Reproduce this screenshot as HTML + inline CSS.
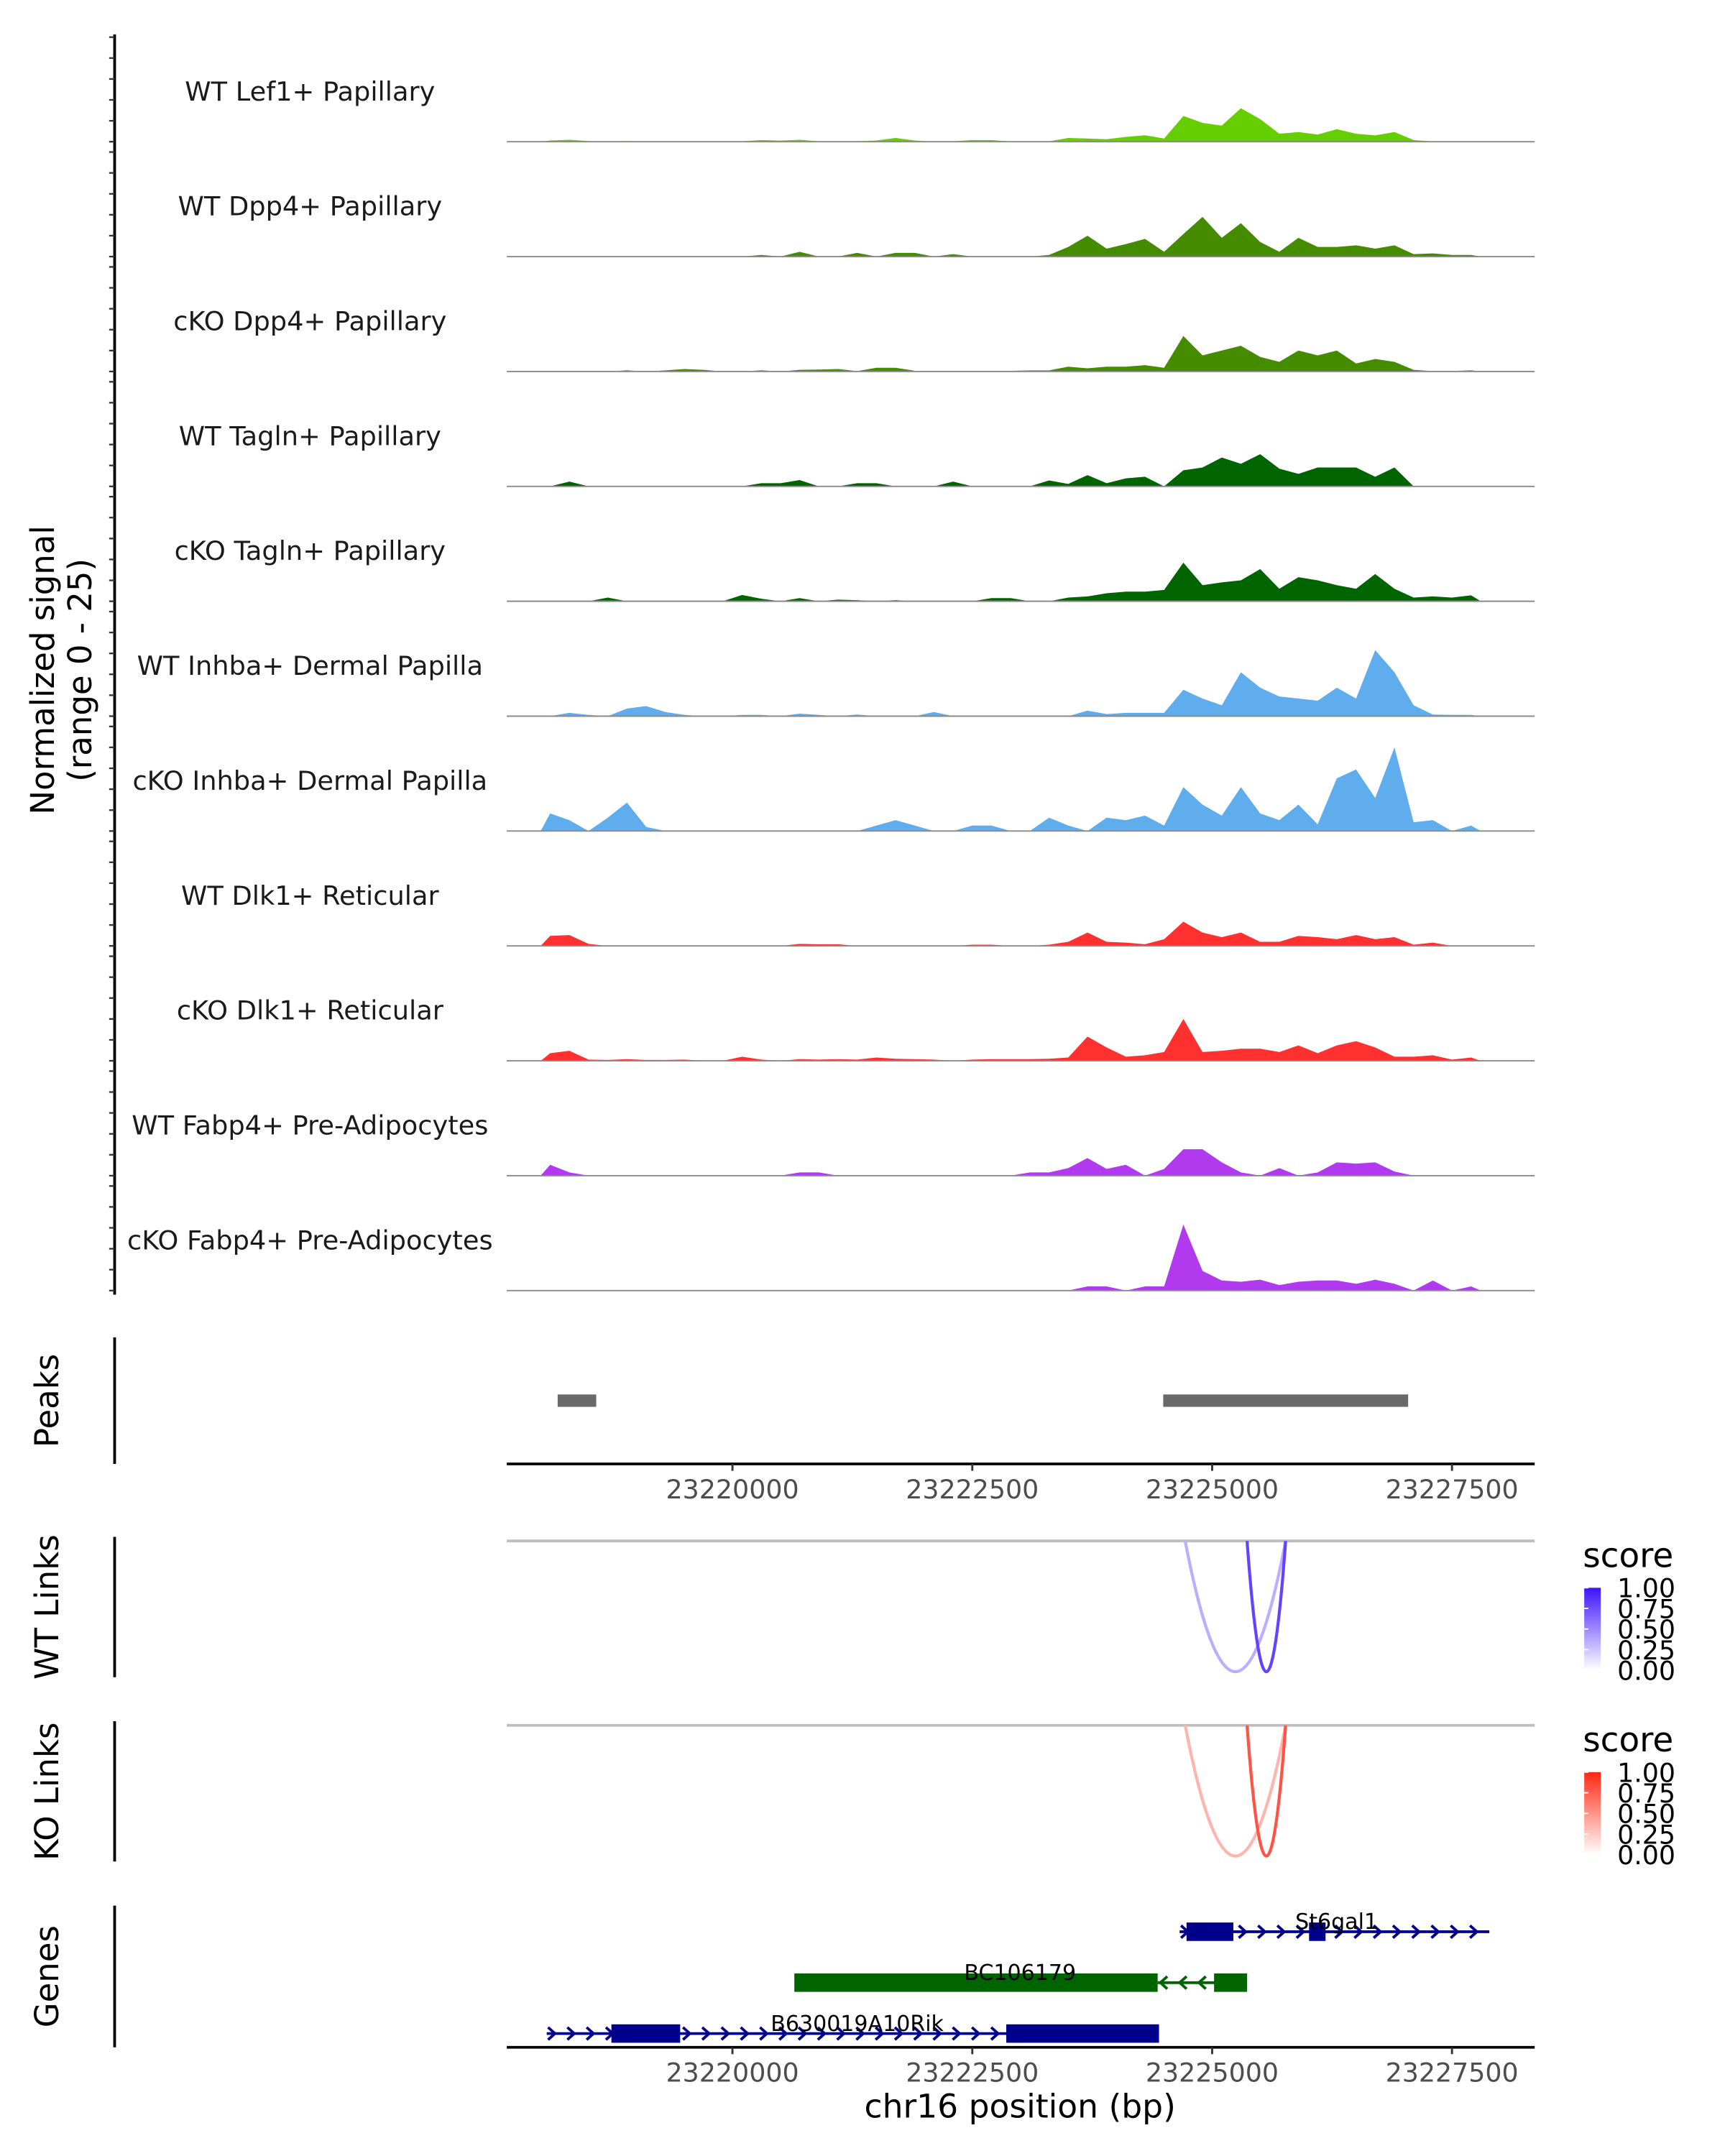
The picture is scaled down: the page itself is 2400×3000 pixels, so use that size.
<!DOCTYPE html>
<html><head><meta charset="utf-8"><style>
html,body{margin:0;padding:0;background:#fff;}
svg{display:block;font-family:"DejaVu Sans","Liberation Sans",sans-serif;}
</style></head><body>
<svg id="chart" xmlns="http://www.w3.org/2000/svg" width="2400" height="3000" viewBox="0 0 1253 1567"></svg>
<script>
// ---- data ----
const binStart = 23218000;
const binSize = 200;
const trackNames = ["WT Lef1+ Papillary","WT Dpp4+ Papillary","cKO Dpp4+ Papillary","WT Tagln+ Papillary","cKO Tagln+ Papillary","WT Inhba+ Dermal Papilla","cKO Inhba+ Dermal Papilla","WT Dlk1+ Reticular","cKO Dlk1+ Reticular","WT Fabp4+ Pre-Adipocytes","cKO Fabp4+ Pre-Adipocytes"];
const trackColors = ["#66cd00","#458b00","#458b00","#006400","#006400","#5fadec","#5fadec","#ff3030","#ff3030","#b23aee","#b23aee"];
const wtLef1 = [0.3,0.45,0.15,0,0.15,0,0,0.1,0.1,0.1,0.1,0.4,0.25,0.45,0.1,0.1,0.1,0.3,0.9,0.3,0,0.1,0.4,0.4,0.05,0.1,0.1,0.9,0.75,0.6,1.15,1.55,0.75,6.15,4.5,3.85,8,5.4,1.9,2.3,1.7,3,1.9,1.5,2.3,0.4,0.05,0.05,0];
const wtDpp4 = [0,0,0,0,0,0,0,0,0,0,0,0.4,0,1.15,0,0,0.9,0,0.9,0.9,0,0.6,0,0,0,0,0.4,2.3,5,1.9,3,4.25,1.15,5.4,9.5,4.5,8,3.5,1.15,4.5,2.3,2.3,2.7,1.9,2.7,0.6,0.75,0.4,0.4];
const koDpp4 = [0.15,0.15,0,0,0.3,0,0.25,0.6,0.4,0,0,0.3,0,0.4,0.45,0.6,0.1,0.9,0.9,0.15,0.15,0.15,0.15,0.15,0.15,0.25,0.25,1.15,0.75,1.15,1.15,1.5,0.9,8.5,3.85,5,6.15,3.5,2.3,5,3.85,5,1.9,3,2.3,0.4,0.1,0.1,0.3];
const wtTagln = [0,1.15,0,0,0,0,0,0,0,0,0,0.75,0.75,1.5,0,0,0.75,0.75,0,0,0,1.15,0,0,0,0,1.4,0.6,2.7,0.75,1.9,2.3,0,3.85,4.5,6.9,5.4,7.7,4.25,3,4.5,4.5,4.5,2.3,4.5,0,0,0,0];
const koTagln = [0,0,0,0.9,0,0,0,0,0,0,1.5,0.6,0,0.75,0,0.4,0.25,0,0.25,0,0,0,0,0.75,0.75,0,0,0.9,1.15,1.9,2.3,2.3,2.7,9.25,3.85,4.5,5,7.7,3,5.75,5,3.85,3,6.5,3,0.9,1.15,0.9,1.4];
const wtInhba = [0,0.8,0.3,0,1.8,2.4,1,0.3,0,0,0.3,0.3,0,0.6,0.3,0,0.4,0,0,0,1,0,0,0,0,0,0,0,1.3,0.5,0.8,0.8,0.8,6.3,4.2,2.6,10.5,6.8,4.7,4.2,3.7,6.8,4.2,15.8,10.5,2.6,0.4,0.3,0.3];
const koInhba = [4.2,2.6,0,3.2,6.8,1,0,0,0,0,0,0,0,0,0,0,0,1.3,2.6,1.3,0,0,1.3,1.3,0,0,3.2,1.3,0,3.2,2.6,3.7,1.3,10.5,6.3,3.7,10.5,4.2,2.6,6.3,1.6,12.6,14.7,7.9,20,2.1,2.6,0,1.3];
const wtDlk1 = [2.4,2.6,0.5,0,0,0,0,0,0,0,0,0,0,0.5,0.4,0.4,0,0,0,0,0,0,0.3,0.3,0,0,0.3,1,3.2,1,0.8,0.4,1.6,5.8,3.2,2.1,3.2,1,1,2.4,2.1,1.6,2.6,1.6,2.1,0.3,0.8,0,0];
const koDlk1 = [1.8,2.4,0.3,0.2,0.4,0.2,0.2,0.3,0,0,1,0.3,0,0.4,0.3,0.4,0.3,0.8,0.5,0.4,0.3,0,0.3,0.4,0.4,0.4,0.5,0.8,5.8,3.2,1,1.3,2.1,10,2.1,2.4,2.9,2.9,2.1,3.7,1.8,3.7,4.7,3.2,1,1,1.3,0.3,0.8];
const wtFabp4 = [2.6,0.8,0,0,0,0,0,0,0,0,0,0,0,0.8,0.8,0,0,0,0,0,0,0,0,0,0,0.8,0.8,1.8,4.2,1.6,2.6,0,1.6,6.3,6.3,3.2,0.8,0,1.8,0,0.8,3.2,2.9,3.2,1,0,0,0,0];
const koFabp4 = [0,0,0,0,0,0,0,0,0,0,0,0,0,0,0,0,0,0,0,0,0,0,0,0,0,0,0,0,1,1,0,1,1,15.8,4.7,2.4,2.1,2.6,1.3,2.1,2.4,2.4,1.6,2.6,1.6,0,2.4,0,1];
const trackValues = [wtLef1,wtDpp4,koDpp4,wtTagln,koTagln,wtInhba,koInhba,wtDlk1,koDlk1,wtFabp4,koFabp4];
const yTicks = [0,5,10,15,20,25];
const xTicks = [23220000,23222500,23225000,23227500];
const peakStarts = [23218178,23224490];
const peakEnds = [23218580,23227043];
const linkStarts = [23224719,23225364];
const linkEnds = [23225766,23225766];
const linkScores = [0.35,0.8];
const genes = ["St6gal1","BC106179","B630019A10Rik"];
const geneStarts = [23224661,23224432,23218064];
const geneEnds = [23227889,23225364,23224446];
const geneStrands = [1,-1,1];
const geneColors = ["#00008b","#006400","#00008b"];
const geneExons = [[[23224733,23225221],[23226010,23226182]],[[23220645,23224432],[23225020,23225364]],[[23218738,23219455],[23222854,23224446]]];
const geneLabelPos = [23226297,23222998,23221300];

// ---- scales ----
const X0=532, PXBP=174.3/2500;
function xs(bp){return X0+(bp-23220000)*PXBP;}
const trackTop0=103, trackStep=83.5, UNIT=3.04;
function ys(base,v){return base - Math.min(v,25)*UNIT;}
const NS="http://www.w3.org/2000/svg";
const svg=document.getElementById('chart');
function mk(tag,attrs,parent){const e=document.createElementNS(NS,tag);for(const k in attrs)e.setAttribute(k,attrs[k]);(parent||svg).appendChild(e);return e;}

// y axis
const yAxis=mk('g',{});


mk('line',{x1:83,y1:25,x2:83,y2:941,stroke:'#000','stroke-width':2},yAxis);
trackNames.forEach((n,t)=>{
  const base=trackTop0+t*trackStep;
  yTicks.forEach(v=>{
    const tk=mk('line',{x1:79,x2:83,y1:ys(base,v),y2:ys(base,v),stroke:'#333','stroke-width':1.2},yAxis);
    
    
  });
});
const yt=mk('text',{x:0,y:0,transform:'translate(43,487) rotate(-90)','text-anchor':'middle','font-size':23.5,fill:'#000'});


mk('tspan',{x:0,dy:-4},yt).textContent='Normalized signal';
mk('tspan',{x:0,dy:27},yt).textContent='(range 0 - 25)';

// tracks
trackNames.forEach((n,t)=>{
  const base=trackTop0+t*trackStep;
  const g=mk('g',{});
  
  
  const lbl=mk('text',{x:225,y:base-30,'text-anchor':'middle','font-size':19.2,fill:'#1a1a1a'},g);
  lbl.textContent=n;
  
  
  const vals=trackValues[t];
  let d='M'+xs(binStart).toFixed(1)+','+base;
  vals.forEach((v,i)=>{d+=' L'+xs(binStart+binSize*i+binSize/2).toFixed(1)+','+ys(base,v).toFixed(1);});
  d+=' L'+xs(binStart+binSize*vals.length).toFixed(1)+','+base+' Z';
  const area=mk('path',{d:d,fill:trackColors[t]},g);
  
  
  mk('line',{x1:368,x2:1115,y1:base,y2:base,stroke:'#8a8a8a','stroke-width':1},g);
});

// panel side axes & labels
function sideAxis(y1,y2,label,name){
  const l=mk('line',{x1:83,x2:83,y1:y1,y2:y2,stroke:'#000','stroke-width':2});
  
  
  const tx=mk('text',{x:0,y:0,transform:'translate(42,'+((y1+y2)/2)+') rotate(-90)','text-anchor':'middle','font-size':23.5,fill:'#000'});
  tx.textContent=label;
  
  
}
sideAxis(972,1064,'Peaks','peaks');
sideAxis(1117,1219,'WT Links','wt-links');
sideAxis(1251,1353,'KO Links','ko-links');
sideAxis(1385,1488,'Genes','genes');

// peaks
peakStarts.forEach((s,i)=>{
  const r=mk('rect',{x:xs(s),y:1013.5,width:xs(peakEnds[i])-xs(s),height:9,fill:'#696969'});
  
  
});

// x axes
function xAxis(y,name){
  const g=mk('g',{});
  
  
  mk('line',{x1:368,x2:1115,y1:y,y2:y,stroke:'#000','stroke-width':2},g);
  xTicks.forEach(v=>{
    mk('line',{x1:xs(v),x2:xs(v),y1:y,y2:y+5,stroke:'#333','stroke-width':1.5},g);
    const t=mk('text',{x:xs(v),y:y+25,'text-anchor':'middle','font-size':19,fill:'#4d4d4d'},g);
    t.textContent=String(v);
    
    
  });
}
xAxis(1064,'peaks-x-axis');
xAxis(1488,'genes-x-axis');
const xl=mk('text',{x:741,y:1539,'text-anchor':'middle','font-size':23.8,fill:'#000'});
xl.textContent='chr16 position (bp)';



// links
function mix(c,s){return 'rgb('+c.map(v=>Math.round(255+(v-255)*s)).join(',')+')';}
function links(top,bottom,col,name,legTop){
  mk('line',{x1:368,x2:1115,y1:top,y2:top,stroke:'#bebebe','stroke-width':2});
  const D=(bottom-top)*2;
  linkStarts.forEach((s,i)=>{
    const a=xs(s),b=xs(linkEnds[i]);
    const p=mk('path',{d:`M${a},${top} Q${(a+b)/2},${top+D} ${b},${top}`,fill:'none',stroke:mix(col,linkScores[i]),'stroke-width':2.2});
    
    
  });
  const lg=mk('g',{});
  
  
  const st=mk('text',{x:1150,y:legTop,'font-size':24.5,fill:'#000'},lg);st.textContent='score';
  const gid='grad'+name;
  const defs=mk('defs',{},lg);
  const gr=mk('linearGradient',{id:gid,x1:0,y1:1,x2:0,y2:0},defs);
  mk('stop',{offset:0,'stop-color':'#ffffff'},gr);
  mk('stop',{offset:1,'stop-color':mix(col,1)},gr);
  const by=legTop+15;
  mk('rect',{x:1151,y:by,width:12,height:60,fill:'url(#'+gid+')'},lg);
  ['1.00','0.75','0.50','0.25','0.00'].forEach((s,k)=>{
    const yy=by+k*15;
    mk('line',{x1:1151,x2:1154,y1:yy,y2:yy,stroke:'#fff','stroke-width':1},lg);
    const t=mk('text',{x:1175,y:yy+7,'font-size':19,fill:'#000'},lg);t.textContent=s;
  });
}
links(1120,1215,[60,20,255],'wt-links',1139);
links(1254,1349,[255,40,20],'ko-links',1273);

// genes
const geneY=[1404,1441,1478];
genes.forEach((gname,i)=>{
  const g=mk('g',{});
  
  
  const y=geneY[i],c=geneColors[i];
  const a=xs(geneStarts[i]),b=xs(geneEnds[i]);
  mk('line',{x1:a,x2:b,y1:y,y2:y,stroke:c,'stroke-width':2},g);
  for(let x=a+4;x<b-1;x+=14){
    const dir=geneStrands[i];
    mk('path',{d:`M${x-3*dir},${y-4.5} L${x+2*dir},${y} L${x-3*dir},${y+4.5}`,fill:'none',stroke:c,'stroke-width':2},g);
  }
  geneExons[i].forEach(e=>{
    mk('rect',{x:xs(e[0]),y:y-6.7,width:xs(e[1])-xs(e[0]),height:13.4,fill:c},g);
  });
  const t=mk('text',{x:xs(geneLabelPos[i]),y:y-2,'text-anchor':'middle','font-size':15.7,fill:'#000'},g);
  t.textContent=gname;
  
  
});
</script>
</body></html>
